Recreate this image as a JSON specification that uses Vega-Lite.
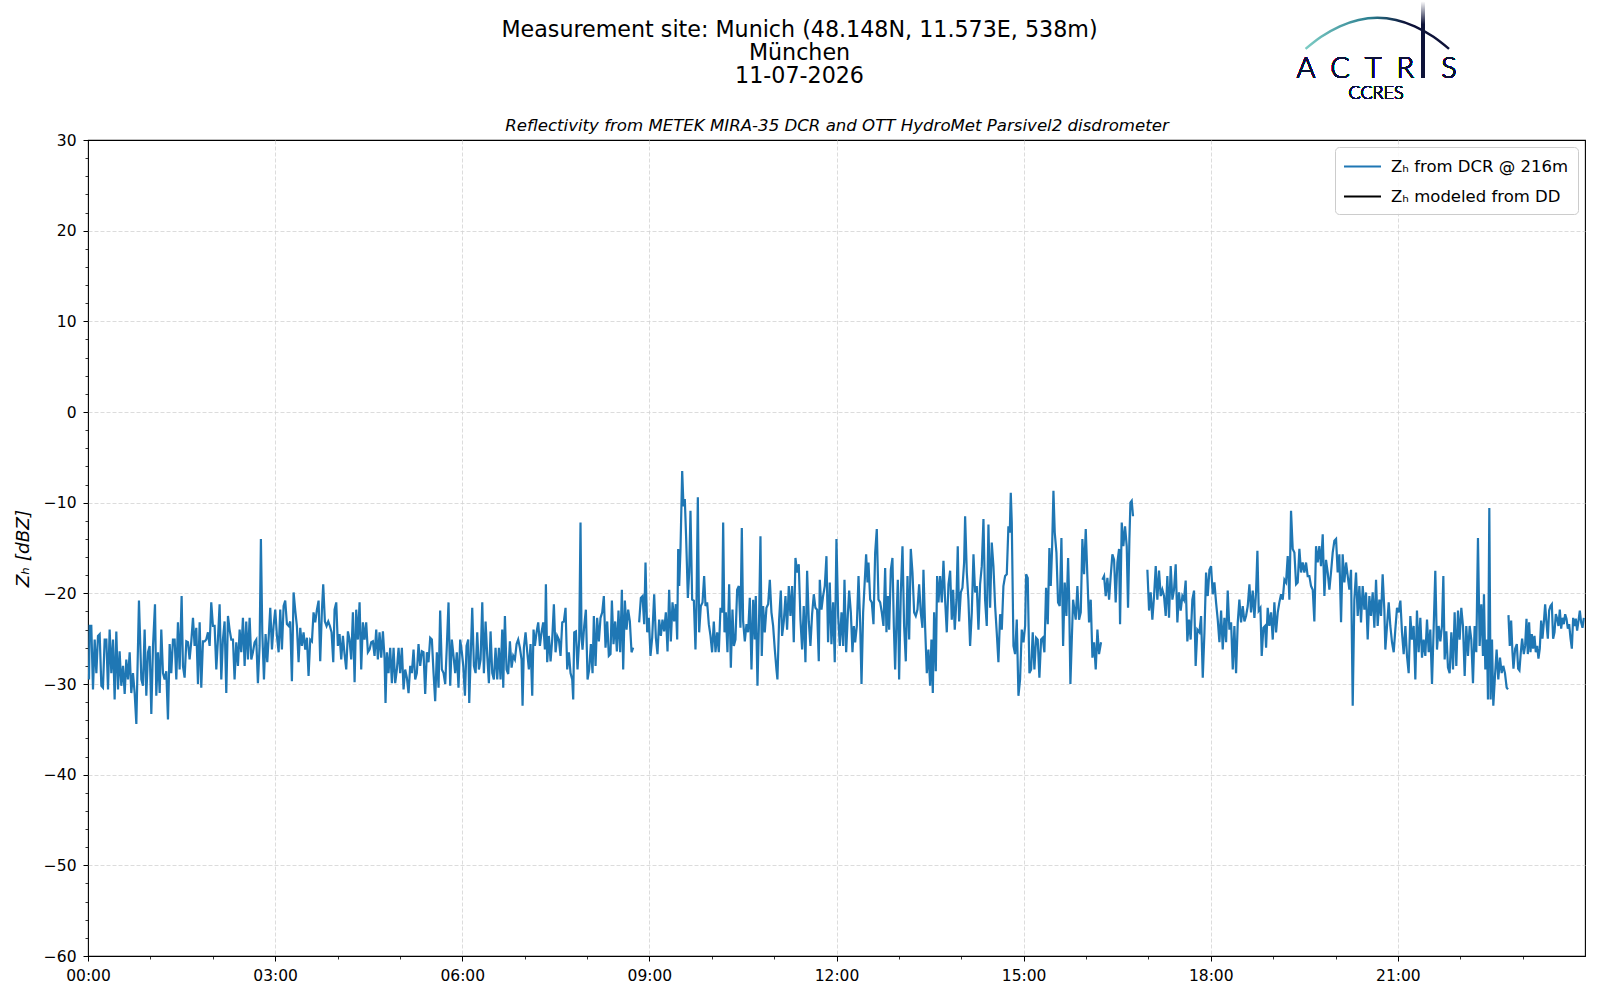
{
  "$schema": "https://vega.github.io/schema/vega-lite/v6.json",
  "width": 1497,
  "height": 816,
  "autosize": {"type": "none"},
  "padding": {"left": 88, "top": 140, "right": 15, "bottom": 44},
  "background": "white",
  "config": {
    "font": "DejaVu Sans",
    "view": {"stroke": "black", "strokeWidth": 1.1},
    "axis": {"labelFont": "DejaVu Sans", "titleFont": "DejaVu Sans", "labelColor": "black", "titleColor": "black", "tickColor": "black"}
  },
  "title": {
    "text": ["Measurement site: Munich (48.148N, 11.573E, 538m)", "München", "11-07-2026"],
    "anchor": "middle",
    "frame": "group",
    "dx": -37,
    "dy": 111,
    "offset": 25,
    "fontSize": 22.2,
    "fontWeight": "normal",
    "font": "DejaVu Sans",
    "lineHeight": 23,
    "color": "black"
  },
  "data": {"values": [
{"h":0.016,"z":-29.5},{"h":0.027,"z":-23.6},{"h":0.053,"z":-23.6},{"h":0.080,"z":-30.6},{"h":0.107,"z":-25.1},{"h":0.134,"z":-28.8},{"h":0.160,"z":-24.7},{"h":0.187,"z":-24.5},{"h":0.214,"z":-30.2},{"h":0.240,"z":-30.4},{"h":0.267,"z":-25.1},{"h":0.294,"z":-25.1},{"h":0.321,"z":-30.6},{"h":0.347,"z":-24.0},{"h":0.374,"z":-28.8},{"h":0.401,"z":-25.1},{"h":0.427,"z":-31.7},{"h":0.454,"z":-24.2},{"h":0.481,"z":-30.6},{"h":0.507,"z":-26.4},{"h":0.534,"z":-30.2},{"h":0.561,"z":-28.0},{"h":0.588,"z":-31.1},{"h":0.614,"z":-27.3},{"h":0.641,"z":-29.5},{"h":0.668,"z":-26.5},{"h":0.694,"z":-31.0},{"h":0.721,"z":-28.8},{"h":0.748,"z":-31.0},{"h":0.775,"z":-34.4},{"h":0.817,"z":-20.8},{"h":0.855,"z":-29.5},{"h":0.881,"z":-30.2},{"h":0.908,"z":-24.0},{"h":0.935,"z":-31.3},{"h":0.962,"z":-26.5},{"h":0.988,"z":-25.8},{"h":1.015,"z":-33.3},{"h":1.042,"z":-25.8},{"h":1.074,"z":-21.2},{"h":1.095,"z":-31.3},{"h":1.122,"z":-26.5},{"h":1.149,"z":-31.0},{"h":1.175,"z":-24.0},{"h":1.202,"z":-28.8},{"h":1.229,"z":-29.5},{"h":1.255,"z":-28.6},{"h":1.282,"z":-33.9},{"h":1.309,"z":-25.6},{"h":1.335,"z":-28.8},{"h":1.362,"z":-25.1},{"h":1.389,"z":-25.1},{"h":1.416,"z":-29.5},{"h":1.442,"z":-23.2},{"h":1.469,"z":-28.4},{"h":1.501,"z":-20.3},{"h":1.522,"z":-28.0},{"h":1.549,"z":-29.3},{"h":1.576,"z":-25.3},{"h":1.603,"z":-25.4},{"h":1.629,"z":-27.3},{"h":1.656,"z":-25.3},{"h":1.683,"z":-22.7},{"h":1.709,"z":-25.8},{"h":1.736,"z":-23.8},{"h":1.763,"z":-30.0},{"h":1.790,"z":-23.2},{"h":1.816,"z":-30.4},{"h":1.843,"z":-25.3},{"h":1.870,"z":-25.3},{"h":1.896,"z":-25.1},{"h":1.923,"z":-24.3},{"h":1.950,"z":-25.8},{"h":1.976,"z":-21.0},{"h":2.003,"z":-23.6},{"h":2.030,"z":-23.6},{"h":2.057,"z":-28.4},{"h":2.083,"z":-25.1},{"h":2.110,"z":-21.2},{"h":2.137,"z":-29.5},{"h":2.163,"z":-25.1},{"h":2.190,"z":-23.1},{"h":2.217,"z":-31.0},{"h":2.244,"z":-22.5},{"h":2.270,"z":-24.0},{"h":2.297,"z":-25.1},{"h":2.324,"z":-25.1},{"h":2.350,"z":-29.5},{"h":2.377,"z":-25.4},{"h":2.404,"z":-28.0},{"h":2.431,"z":-24.0},{"h":2.457,"z":-26.5},{"h":2.484,"z":-22.7},{"h":2.511,"z":-28.0},{"h":2.537,"z":-23.1},{"h":2.564,"z":-27.3},{"h":2.591,"z":-22.7},{"h":2.618,"z":-27.3},{"h":2.644,"z":-26.5},{"h":2.671,"z":-25.4},{"h":2.698,"z":-25.1},{"h":2.724,"z":-29.9},{"h":2.751,"z":-25.8},{"h":2.772,"z":-14.0},{"h":2.794,"z":-24.3},{"h":2.821,"z":-29.5},{"h":2.847,"z":-24.5},{"h":2.874,"z":-27.6},{"h":2.901,"z":-24.3},{"h":2.922,"z":-21.6},{"h":2.949,"z":-26.2},{"h":2.975,"z":-23.6},{"h":3.002,"z":-21.8},{"h":3.029,"z":-24.7},{"h":3.056,"z":-26.5},{"h":3.082,"z":-21.8},{"h":3.109,"z":-26.2},{"h":3.136,"z":-21.4},{"h":3.162,"z":-20.8},{"h":3.189,"z":-23.4},{"h":3.216,"z":-23.6},{"h":3.242,"z":-23.1},{"h":3.269,"z":-29.7},{"h":3.296,"z":-19.9},{"h":3.323,"z":-21.9},{"h":3.349,"z":-23.6},{"h":3.376,"z":-27.6},{"h":3.403,"z":-23.8},{"h":3.429,"z":-25.8},{"h":3.456,"z":-24.3},{"h":3.483,"z":-26.2},{"h":3.510,"z":-24.9},{"h":3.536,"z":-29.1},{"h":3.563,"z":-25.1},{"h":3.590,"z":-25.3},{"h":3.616,"z":-22.1},{"h":3.643,"z":-23.2},{"h":3.670,"z":-21.8},{"h":3.697,"z":-20.8},{"h":3.723,"z":-27.5},{"h":3.750,"z":-21.9},{"h":3.771,"z":-19.0},{"h":3.798,"z":-23.1},{"h":3.825,"z":-23.6},{"h":3.852,"z":-23.1},{"h":3.878,"z":-23.6},{"h":3.905,"z":-24.3},{"h":3.932,"z":-27.6},{"h":3.953,"z":-21.8},{"h":3.980,"z":-21.0},{"h":4.006,"z":-25.8},{"h":4.033,"z":-24.5},{"h":4.060,"z":-27.3},{"h":4.087,"z":-24.7},{"h":4.113,"z":-26.7},{"h":4.140,"z":-28.4},{"h":4.167,"z":-24.2},{"h":4.193,"z":-25.1},{"h":4.220,"z":-27.3},{"h":4.247,"z":-22.1},{"h":4.274,"z":-29.8},{"h":4.300,"z":-21.8},{"h":4.327,"z":-25.1},{"h":4.354,"z":-21.0},{"h":4.380,"z":-28.4},{"h":4.407,"z":-23.2},{"h":4.434,"z":-25.1},{"h":4.460,"z":-23.2},{"h":4.487,"z":-26.5},{"h":4.514,"z":-26.2},{"h":4.541,"z":-25.4},{"h":4.567,"z":-25.3},{"h":4.594,"z":-26.9},{"h":4.621,"z":-24.0},{"h":4.647,"z":-27.3},{"h":4.674,"z":-24.3},{"h":4.701,"z":-27.1},{"h":4.728,"z":-24.2},{"h":4.754,"z":-27.1},{"h":4.770,"z":-32.1},{"h":4.792,"z":-26.5},{"h":4.818,"z":-28.8},{"h":4.845,"z":-26.0},{"h":4.872,"z":-29.9},{"h":4.899,"z":-26.0},{"h":4.925,"z":-29.9},{"h":4.952,"z":-28.4},{"h":4.979,"z":-26.0},{"h":5.005,"z":-28.8},{"h":5.032,"z":-26.0},{"h":5.059,"z":-30.6},{"h":5.085,"z":-28.4},{"h":5.112,"z":-29.3},{"h":5.139,"z":-31.0},{"h":5.166,"z":-28.0},{"h":5.192,"z":-28.8},{"h":5.219,"z":-26.2},{"h":5.246,"z":-29.5},{"h":5.272,"z":-28.8},{"h":5.299,"z":-25.6},{"h":5.326,"z":-28.0},{"h":5.353,"z":-26.4},{"h":5.379,"z":-26.5},{"h":5.406,"z":-31.1},{"h":5.433,"z":-26.5},{"h":5.459,"z":-27.6},{"h":5.486,"z":-24.9},{"h":5.513,"z":-25.1},{"h":5.540,"z":-28.8},{"h":5.566,"z":-31.9},{"h":5.593,"z":-26.5},{"h":5.620,"z":-30.4},{"h":5.646,"z":-21.9},{"h":5.673,"z":-28.4},{"h":5.700,"z":-28.8},{"h":5.727,"z":-30.0},{"h":5.753,"z":-25.8},{"h":5.780,"z":-21.0},{"h":5.807,"z":-30.2},{"h":5.833,"z":-25.1},{"h":5.860,"z":-26.9},{"h":5.887,"z":-28.8},{"h":5.913,"z":-26.5},{"h":5.940,"z":-30.4},{"h":5.967,"z":-25.1},{"h":5.994,"z":-26.5},
{"h":6.016,"z":-28.0},{"h":6.043,"z":-31.3},{"h":6.069,"z":-25.8},{"h":6.096,"z":-25.1},{"h":6.112,"z":-32.1},{"h":6.134,"z":-27.3},{"h":6.160,"z":-21.6},{"h":6.187,"z":-28.0},{"h":6.214,"z":-28.8},{"h":6.240,"z":-24.3},{"h":6.267,"z":-28.4},{"h":6.294,"z":-27.3},{"h":6.321,"z":-21.0},{"h":6.347,"z":-28.8},{"h":6.374,"z":-23.1},{"h":6.401,"z":-26.9},{"h":6.427,"z":-29.9},{"h":6.454,"z":-24.2},{"h":6.481,"z":-28.8},{"h":6.507,"z":-29.5},{"h":6.534,"z":-26.0},{"h":6.561,"z":-29.5},{"h":6.588,"z":-26.0},{"h":6.614,"z":-29.5},{"h":6.641,"z":-24.0},{"h":6.657,"z":-30.4},{"h":6.684,"z":-22.5},{"h":6.710,"z":-28.4},{"h":6.737,"z":-28.9},{"h":6.764,"z":-25.3},{"h":6.791,"z":-28.2},{"h":6.817,"z":-26.9},{"h":6.844,"z":-27.3},{"h":6.871,"z":-25.6},{"h":6.897,"z":-25.1},{"h":6.924,"z":-26.0},{"h":6.951,"z":-27.3},{"h":6.967,"z":-32.4},{"h":6.988,"z":-26.0},{"h":7.015,"z":-24.3},{"h":7.042,"z":-26.5},{"h":7.068,"z":-28.4},{"h":7.095,"z":-25.6},{"h":7.122,"z":-31.3},{"h":7.143,"z":-24.0},{"h":7.165,"z":-25.8},{"h":7.191,"z":-24.3},{"h":7.218,"z":-23.2},{"h":7.245,"z":-25.8},{"h":7.271,"z":-24.3},{"h":7.298,"z":-23.2},{"h":7.325,"z":-26.2},{"h":7.341,"z":-19.0},{"h":7.362,"z":-27.6},{"h":7.389,"z":-24.7},{"h":7.416,"z":-27.5},{"h":7.442,"z":-25.1},{"h":7.469,"z":-21.2},{"h":7.496,"z":-26.5},{"h":7.522,"z":-24.7},{"h":7.549,"z":-25.1},{"h":7.576,"z":-26.9},{"h":7.603,"z":-23.2},{"h":7.629,"z":-23.1},{"h":7.656,"z":-21.6},{"h":7.683,"z":-28.4},{"h":7.709,"z":-26.5},{"h":7.736,"z":-28.8},{"h":7.763,"z":-29.5},{"h":7.779,"z":-31.7},{"h":7.795,"z":-24.3},{"h":7.822,"z":-24.2},{"h":7.848,"z":-28.4},{"h":7.875,"z":-25.1},{"h":7.896,"z":-12.2},{"h":7.912,"z":-24.7},{"h":7.928,"z":-26.2},{"h":7.955,"z":-23.6},{"h":7.982,"z":-21.8},{"h":8.009,"z":-29.5},{"h":8.035,"z":-28.4},{"h":8.062,"z":-25.6},{"h":8.089,"z":-28.8},{"h":8.110,"z":-22.5},{"h":8.137,"z":-28.0},{"h":8.163,"z":-22.7},{"h":8.190,"z":-25.3},{"h":8.217,"z":-22.7},{"h":8.244,"z":-22.1},{"h":8.270,"z":-20.3},{"h":8.297,"z":-26.0},{"h":8.324,"z":-23.1},{"h":8.350,"z":-26.9},{"h":8.377,"z":-26.7},{"h":8.399,"z":-20.8},{"h":8.425,"z":-25.6},{"h":8.452,"z":-23.1},{"h":8.479,"z":-26.4},{"h":8.505,"z":-21.9},{"h":8.532,"z":-26.5},{"h":8.559,"z":-19.6},{"h":8.580,"z":-28.4},{"h":8.607,"z":-20.8},{"h":8.634,"z":-24.0},{"h":8.660,"z":-21.8},{"h":8.687,"z":-23.1},{"h":8.714,"z":-26.5},{"h":8.740,"z":-26.0},{"h":8.790,"z":null},
{"h":8.836,"z":-23.2},{"h":8.863,"z":-20.5},{"h":8.890,"z":-20.3},{"h":8.917,"z":-23.4},{"h":8.938,"z":-16.6},{"h":8.965,"z":-24.3},{"h":8.991,"z":-22.7},{"h":9.018,"z":-26.9},{"h":9.045,"z":-24.9},{"h":9.077,"z":-20.1},{"h":9.104,"z":-24.9},{"h":9.130,"z":-26.7},{"h":9.157,"z":-22.9},{"h":9.184,"z":-24.7},{"h":9.210,"z":-22.9},{"h":9.237,"z":-24.2},{"h":9.264,"z":-22.1},{"h":9.291,"z":-26.4},{"h":9.317,"z":-19.6},{"h":9.344,"z":-25.3},{"h":9.371,"z":-21.0},{"h":9.397,"z":-23.1},{"h":9.424,"z":-21.2},{"h":9.446,"z":-25.1},{"h":9.462,"z":-15.1},{"h":9.478,"z":-19.2},{"h":9.499,"z":-15.1},{"h":9.526,"z":-6.5},{"h":9.547,"z":-10.4},{"h":9.568,"z":-9.6},{"h":9.590,"z":-14.0},{"h":9.617,"z":-20.5},{"h":9.638,"z":-17.7},{"h":9.659,"z":-10.9},{"h":9.686,"z":-20.7},{"h":9.713,"z":-20.8},{"h":9.739,"z":-26.2},{"h":9.755,"z":-21.4},{"h":9.777,"z":-9.4},{"h":9.798,"z":-24.3},{"h":9.825,"z":-21.4},{"h":9.852,"z":-21.0},{"h":9.878,"z":-18.1},{"h":9.900,"z":-21.4},{"h":9.926,"z":-21.0},{"h":9.953,"z":-23.4},{"h":9.980,"z":-24.7},{"h":10.006,"z":-26.5},{"h":10.033,"z":-23.1},{"h":10.060,"z":-26.5},{"h":10.087,"z":-24.3},{"h":10.113,"z":-26.5},{"h":10.140,"z":-21.6},{"h":10.167,"z":-22.1},{"h":10.183,"z":-12.2},{"h":10.204,"z":-24.3},{"h":10.226,"z":-22.1},{"h":10.252,"z":-26.5},{"h":10.279,"z":-19.0},{"h":10.306,"z":-28.2},{"h":10.332,"z":-21.8},{"h":10.354,"z":-25.8},{"h":10.380,"z":-25.1},{"h":10.407,"z":-19.6},{"h":10.434,"z":-19.2},{"h":10.460,"z":-23.8},{"h":10.482,"z":-12.8},{"h":10.503,"z":-23.1},{"h":10.530,"z":-25.3},{"h":10.557,"z":-23.4},{"h":10.583,"z":-24.3},{"h":10.610,"z":-20.5},{"h":10.637,"z":-28.4},{"h":10.664,"z":-20.7},{"h":10.690,"z":-25.1},{"h":10.706,"z":-20.3},{"h":10.733,"z":-30.2},{"h":10.760,"z":-22.3},{"h":10.781,"z":-13.7},{"h":10.802,"z":-26.9},{"h":10.824,"z":-21.4},{"h":10.850,"z":-24.3},{"h":10.877,"z":-21.6},{"h":10.904,"z":-21.2},{"h":10.931,"z":-18.5},{"h":10.957,"z":-22.1},{"h":10.984,"z":-23.6},{"h":11.011,"z":-26.2},{"h":11.037,"z":-28.4},{"h":11.053,"z":-29.5},{"h":11.080,"z":-22.9},{"h":11.107,"z":-19.7},{"h":11.128,"z":-24.7},{"h":11.155,"z":-23.1},{"h":11.182,"z":-20.3},{"h":11.208,"z":-24.0},{"h":11.235,"z":-19.2},{"h":11.262,"z":-22.5},{"h":11.288,"z":-19.2},{"h":11.315,"z":-25.4},{"h":11.342,"z":-16.1},{"h":11.369,"z":-17.7},{"h":11.395,"z":-16.8},{"h":11.422,"z":-22.9},{"h":11.449,"z":-26.2},{"h":11.475,"z":-21.4},{"h":11.502,"z":-27.6},{"h":11.529,"z":-17.5},{"h":11.556,"z":-23.1},{"h":11.582,"z":-25.8},{"h":11.609,"z":-22.3},{"h":11.636,"z":-20.1},{"h":11.662,"z":-21.6},{"h":11.689,"z":-21.8},{"h":11.716,"z":-27.5},{"h":11.732,"z":-18.5},{"h":11.759,"z":-21.8},{"h":11.785,"z":-20.3},{"h":11.812,"z":-19.2},{"h":11.839,"z":-15.9},{"h":11.865,"z":-25.4},{"h":11.892,"z":-18.8},{"h":11.919,"z":-25.6},{"h":11.946,"z":-21.0},{"h":11.972,"z":-27.6},{"h":11.999,"z":-14.0},
{"h":12.027,"z":-22.5},{"h":12.053,"z":-25.8},{"h":12.080,"z":-22.1},{"h":12.107,"z":-25.8},{"h":12.128,"z":-18.5},{"h":12.155,"z":-26.5},{"h":12.182,"z":-22.3},{"h":12.203,"z":-19.7},{"h":12.230,"z":-22.1},{"h":12.256,"z":-26.5},{"h":12.278,"z":-23.6},{"h":12.299,"z":-25.4},{"h":12.326,"z":-23.6},{"h":12.353,"z":-18.1},{"h":12.379,"z":-23.2},{"h":12.401,"z":-30.0},{"h":12.427,"z":-22.1},{"h":12.454,"z":-18.5},{"h":12.475,"z":-15.7},{"h":12.497,"z":-18.8},{"h":12.513,"z":-16.6},{"h":12.540,"z":-20.7},{"h":12.566,"z":-21.0},{"h":12.593,"z":-23.4},{"h":12.620,"z":-15.5},{"h":12.646,"z":-12.9},{"h":12.673,"z":-20.7},{"h":12.700,"z":-21.0},{"h":12.726,"z":-22.1},{"h":12.753,"z":-23.6},{"h":12.780,"z":-17.2},{"h":12.801,"z":-24.3},{"h":12.823,"z":-20.3},{"h":12.844,"z":-24.0},{"h":12.871,"z":-17.4},{"h":12.897,"z":-16.1},{"h":12.919,"z":-23.6},{"h":12.940,"z":-28.4},{"h":12.962,"z":-22.9},{"h":12.983,"z":-18.5},{"h":13.004,"z":-29.5},{"h":13.031,"z":-19.9},{"h":13.058,"z":-14.8},{"h":13.084,"z":-23.6},{"h":13.111,"z":-27.5},{"h":13.138,"z":-18.1},{"h":13.165,"z":-25.1},{"h":13.191,"z":-15.1},{"h":13.218,"z":-17.7},{"h":13.245,"z":-22.1},{"h":13.271,"z":-22.5},{"h":13.298,"z":-21.8},{"h":13.325,"z":-19.0},{"h":13.351,"z":-22.1},{"h":13.378,"z":-23.8},{"h":13.394,"z":-17.4},{"h":13.421,"z":-23.8},{"h":13.448,"z":-28.8},{"h":13.474,"z":-26.2},{"h":13.501,"z":-30.2},{"h":13.522,"z":-25.1},{"h":13.544,"z":-31.0},{"h":13.565,"z":-22.1},{"h":13.592,"z":-28.6},{"h":13.613,"z":-18.1},{"h":13.635,"z":-21.0},{"h":13.661,"z":-18.1},{"h":13.688,"z":-21.0},{"h":13.715,"z":-16.4},{"h":13.741,"z":-20.7},{"h":13.768,"z":-24.3},{"h":13.795,"z":-19.0},{"h":13.822,"z":-17.5},{"h":13.848,"z":-22.9},{"h":13.870,"z":-19.6},{"h":13.896,"z":-24.0},{"h":13.923,"z":-20.7},{"h":13.944,"z":-14.8},{"h":13.966,"z":-23.1},{"h":13.993,"z":-19.9},{"h":14.019,"z":-19.4},{"h":14.046,"z":-16.6},{"h":14.062,"z":-11.5},{"h":14.089,"z":-17.7},{"h":14.115,"z":-20.7},{"h":14.142,"z":-25.8},{"h":14.169,"z":-22.1},{"h":14.196,"z":-15.7},{"h":14.222,"z":-19.9},{"h":14.249,"z":-19.2},{"h":14.276,"z":-24.0},{"h":14.302,"z":-19.0},{"h":14.329,"z":-17.0},{"h":14.356,"z":-11.8},{"h":14.382,"z":-20.7},{"h":14.409,"z":-23.6},{"h":14.436,"z":-12.4},{"h":14.463,"z":-21.6},{"h":14.489,"z":-14.4},{"h":14.516,"z":-17.0},{"h":14.543,"z":-21.4},{"h":14.569,"z":-24.3},{"h":14.596,"z":-27.6},{"h":14.623,"z":-22.3},{"h":14.650,"z":-24.0},{"h":14.676,"z":-19.2},{"h":14.703,"z":-18.1},{"h":14.730,"z":-17.9},{"h":14.756,"z":-12.6},{"h":14.778,"z":-13.3},{"h":14.794,"z":-8.9},{"h":14.810,"z":-12.2},{"h":14.837,"z":-25.8},{"h":14.863,"z":-26.7},{"h":14.890,"z":-22.9},{"h":14.917,"z":-31.3},{"h":14.943,"z":-29.5},{"h":14.970,"z":-24.0},{"h":14.997,"z":-25.4},{"h":15.024,"z":-23.6},{"h":15.040,"z":-17.9},{"h":15.066,"z":-18.3},{"h":15.093,"z":-28.8},{"h":15.120,"z":-28.4},{"h":15.146,"z":-24.3},{"h":15.173,"z":-28.4},{"h":15.200,"z":-24.9},{"h":15.226,"z":-25.1},{"h":15.253,"z":-29.3},{"h":15.280,"z":-25.1},{"h":15.307,"z":-24.9},{"h":15.333,"z":-26.5},{"h":15.360,"z":-19.4},{"h":15.387,"z":-23.4},{"h":15.413,"z":-15.0},{"h":15.435,"z":-19.2},{"h":15.456,"z":-15.1},{"h":15.478,"z":-8.7},{"h":15.499,"z":-13.3},{"h":15.526,"z":-15.5},{"h":15.552,"z":-21.0},{"h":15.579,"z":-21.4},{"h":15.606,"z":-13.9},{"h":15.633,"z":-25.8},{"h":15.659,"z":-18.8},{"h":15.686,"z":-22.5},{"h":15.713,"z":-16.1},{"h":15.729,"z":-20.3},{"h":15.750,"z":-30.0},{"h":15.771,"z":-25.4},{"h":15.793,"z":-20.7},{"h":15.814,"z":-21.8},{"h":15.835,"z":-22.9},{"h":15.862,"z":-19.2},{"h":15.889,"z":-22.9},{"h":15.916,"z":-22.1},{"h":15.942,"z":-14.0},{"h":15.969,"z":-17.9},{"h":15.996,"z":-12.9},{"h":16.022,"z":-18.1},{"h":16.049,"z":-23.2},{"h":16.076,"z":-20.7},{"h":16.103,"z":-27.1},{"h":16.129,"z":-25.4},{"h":16.156,"z":-28.4},{"h":16.183,"z":-24.0},{"h":16.209,"z":-26.7},{"h":16.241,"z":-25.4},{"h":16.252,"z":null},
{"h":16.263,"z":-18.5},{"h":16.290,"z":-18.1},{"h":16.316,"z":-20.3},{"h":16.343,"z":-18.3},{"h":16.370,"z":-20.7},{"h":16.396,"z":-18.1},{"h":16.423,"z":-15.7},{"h":16.450,"z":-16.3},{"h":16.476,"z":-21.0},{"h":16.503,"z":-16.6},{"h":16.530,"z":-15.1},{"h":16.546,"z":-23.4},{"h":16.573,"z":-12.2},{"h":16.599,"z":-14.8},{"h":16.626,"z":-12.6},{"h":16.653,"z":-14.8},{"h":16.674,"z":-21.6},{"h":16.696,"z":-14.0},{"h":16.712,"z":-10.0},{"h":16.733,"z":-9.8},{"h":16.754,"z":-11.5},{"h":16.870,"z":null},
{"h":16.984,"z":-17.4},{"h":17.011,"z":-21.9},{"h":17.037,"z":-19.9},{"h":17.064,"z":-22.9},{"h":17.091,"z":-20.3},{"h":17.118,"z":-17.0},{"h":17.144,"z":-20.7},{"h":17.171,"z":-17.5},{"h":17.198,"z":-20.3},{"h":17.224,"z":-19.6},{"h":17.251,"z":-20.3},{"h":17.278,"z":-22.5},{"h":17.304,"z":-18.1},{"h":17.331,"z":-22.7},{"h":17.358,"z":-17.0},{"h":17.385,"z":-20.7},{"h":17.411,"z":-19.6},{"h":17.438,"z":-16.8},{"h":17.465,"z":-23.2},{"h":17.491,"z":-19.9},{"h":17.518,"z":-21.9},{"h":17.545,"z":-20.3},{"h":17.571,"z":-20.7},{"h":17.598,"z":-18.6},{"h":17.625,"z":-25.3},{"h":17.652,"z":-22.9},{"h":17.678,"z":-25.1},{"h":17.705,"z":-20.7},{"h":17.732,"z":-19.7},{"h":17.758,"z":-28.0},{"h":17.785,"z":-24.0},
{"h":17.818,"z":-24.3},{"h":17.845,"z":-22.5},{"h":17.872,"z":-29.3},{"h":17.899,"z":-24.3},{"h":17.925,"z":-17.7},{"h":17.952,"z":-20.3},{"h":17.979,"z":-17.4},{"h":18.005,"z":-17.0},{"h":18.032,"z":-20.1},{"h":18.059,"z":-18.8},{"h":18.085,"z":-21.0},{"h":18.112,"z":-22.9},{"h":18.139,"z":-25.4},{"h":18.166,"z":-21.9},{"h":18.192,"z":-26.2},{"h":18.219,"z":-22.7},{"h":18.246,"z":-25.4},{"h":18.272,"z":-19.7},{"h":18.299,"z":-24.0},{"h":18.326,"z":-23.2},{"h":18.353,"z":-28.4},{"h":18.379,"z":-23.6},{"h":18.406,"z":-28.8},{"h":18.433,"z":-23.2},{"h":18.459,"z":-20.7},{"h":18.486,"z":-23.2},{"h":18.513,"z":-21.4},{"h":18.540,"z":-23.1},{"h":18.566,"z":-22.5},{"h":18.593,"z":-21.4},{"h":18.620,"z":-19.0},{"h":18.646,"z":-22.1},{"h":18.673,"z":-19.7},{"h":18.700,"z":-22.7},{"h":18.726,"z":-19.9},{"h":18.748,"z":-15.3},{"h":18.769,"z":-21.9},{"h":18.796,"z":-21.6},{"h":18.817,"z":-26.9},{"h":18.844,"z":-23.8},{"h":18.871,"z":-23.6},{"h":18.887,"z":-26.0},{"h":18.913,"z":-21.6},{"h":18.940,"z":-23.6},{"h":18.967,"z":-22.1},{"h":18.994,"z":-25.1},{"h":19.020,"z":-21.0},{"h":19.047,"z":-24.3},{"h":19.074,"z":-22.1},{"h":19.100,"z":-21.0},{"h":19.127,"z":-20.1},{"h":19.154,"z":-20.7},{"h":19.181,"z":-18.5},{"h":19.207,"z":-18.8},{"h":19.234,"z":-15.9},{"h":19.261,"z":-20.7},{"h":19.287,"z":-10.9},{"h":19.314,"z":-15.1},{"h":19.341,"z":-15.5},{"h":19.368,"z":-19.0},{"h":19.394,"z":-18.8},{"h":19.421,"z":-15.1},{"h":19.448,"z":-17.7},{"h":19.474,"z":-16.6},{"h":19.501,"z":-17.7},{"h":19.528,"z":-16.6},{"h":19.554,"z":-18.1},{"h":19.581,"z":-18.1},{"h":19.608,"z":-19.2},{"h":19.635,"z":-19.6},{"h":19.661,"z":-23.1},{"h":19.688,"z":-14.8},{"h":19.715,"z":-16.6},{"h":19.741,"z":-14.8},{"h":19.768,"z":-17.0},{"h":19.795,"z":-13.5},{"h":19.822,"z":-20.3},{"h":19.848,"z":-16.3},{"h":19.875,"z":-17.7},{"h":19.902,"z":-19.6},{"h":19.928,"z":-17.7},{"h":19.955,"z":-15.5},{"h":19.982,"z":-14.2},{"h":20.009,"z":-14.0},{"h":20.035,"z":-17.7},{"h":20.062,"z":-15.7},{"h":20.089,"z":-23.2},{"h":20.115,"z":-15.7},{"h":20.142,"z":-18.8},{"h":20.169,"z":-16.6},{"h":20.196,"z":-18.1},{"h":20.222,"z":-19.6},{"h":20.249,"z":-17.4},{"h":20.276,"z":-32.4},{"h":20.302,"z":-20.7},{"h":20.329,"z":-17.7},{"h":20.356,"z":-22.5},{"h":20.383,"z":-19.2},{"h":20.409,"z":-23.2},{"h":20.436,"z":-19.2},{"h":20.463,"z":-21.8},{"h":20.489,"z":-19.9},{"h":20.516,"z":-25.1},{"h":20.543,"z":-20.3},{"h":20.569,"z":-22.5},{"h":20.596,"z":-19.9},{"h":20.623,"z":-23.8},{"h":20.650,"z":-18.5},{"h":20.676,"z":-23.6},{"h":20.703,"z":-20.7},{"h":20.730,"z":-22.5},{"h":20.756,"z":-17.9},{"h":20.783,"z":-21.8},{"h":20.799,"z":-26.2},{"h":20.826,"z":-23.6},{"h":20.853,"z":-21.0},{"h":20.879,"z":-23.6},{"h":20.906,"z":-25.4},{"h":20.933,"z":-26.5},{"h":20.959,"z":-24.0},{"h":20.986,"z":-21.6},{"h":21.013,"z":-22.1},{"h":21.040,"z":-20.8},{"h":21.066,"z":-24.3},{"h":21.093,"z":-26.7},{"h":21.120,"z":-23.6},{"h":21.146,"z":-26.9},{"h":21.173,"z":-28.8},{"h":21.200,"z":-22.5},{"h":21.226,"z":-25.1},{"h":21.253,"z":-23.6},{"h":21.280,"z":-29.5},{"h":21.306,"z":-21.9},{"h":21.333,"z":-26.5},{"h":21.360,"z":-22.7},{"h":21.387,"z":-27.1},{"h":21.413,"z":-25.1},{"h":21.440,"z":-26.9},{"h":21.467,"z":-22.9},{"h":21.494,"z":-26.5},{"h":21.520,"z":-24.0},{"h":21.547,"z":-30.0},{"h":21.574,"z":-23.8},{"h":21.600,"z":-17.5},{"h":21.627,"z":-26.2},{"h":21.654,"z":-23.6},{"h":21.681,"z":-25.3},{"h":21.707,"z":-23.6},{"h":21.729,"z":-18.1},{"h":21.750,"z":-27.3},{"h":21.777,"z":-24.2},{"h":21.803,"z":-28.2},{"h":21.830,"z":-28.8},{"h":21.857,"z":-24.3},{"h":21.884,"z":-28.4},{"h":21.910,"z":-22.1},{"h":21.937,"z":-28.0},{"h":21.964,"z":-21.9},{"h":21.990,"z":-25.1},{"h":22.017,"z":-21.6},{"h":22.044,"z":-23.6},{"h":22.071,"z":-29.1},{"h":22.097,"z":-23.6},{"h":22.124,"z":-26.9},{"h":22.151,"z":-23.6},{"h":22.177,"z":-25.1},{"h":22.204,"z":-29.9},{"h":22.231,"z":-23.6},{"h":22.257,"z":-26.5},{"h":22.284,"z":-13.9},{"h":22.311,"z":-25.8},{"h":22.338,"z":-21.2},{"h":22.364,"z":-26.9},{"h":22.380,"z":-20.1},{"h":22.402,"z":-28.4},{"h":22.429,"z":-25.1},{"h":22.444,"z":-31.7},{"h":22.466,"z":-10.6},{"h":22.487,"z":-31.7},{"h":22.509,"z":-25.1},{"h":22.530,"z":-32.4},{"h":22.557,"z":-29.1},{"h":22.583,"z":-26.2},{"h":22.610,"z":-29.5},{"h":22.637,"z":-27.1},{"h":22.664,"z":-28.8},{"h":22.690,"z":-28.0},{"h":22.717,"z":-28.8},{"h":22.744,"z":-30.4},{"h":22.765,"z":-30.6},{"h":22.769,"z":null},
{"h":22.773,"z":-22.4},{"h":22.794,"z":-25.8},{"h":22.816,"z":-23.0},{"h":22.837,"z":-26.5},{"h":22.853,"z":-28.3},{"h":22.880,"z":-26.1},{"h":22.907,"z":-25.6},{"h":22.928,"z":-28.3},{"h":22.949,"z":-28.5},{"h":22.971,"z":-26.5},{"h":22.992,"z":-25.0},{"h":23.019,"z":-26.7},{"h":23.040,"z":-25.8},{"h":23.062,"z":-22.8},{"h":23.083,"z":-26.7},{"h":23.104,"z":-23.2},{"h":23.126,"z":-26.5},{"h":23.147,"z":-24.5},{"h":23.168,"z":-26.1},{"h":23.190,"z":-24.7},{"h":23.211,"z":-26.5},{"h":23.233,"z":-25.8},{"h":23.254,"z":-27.2},{"h":23.275,"z":-26.1},{"h":23.297,"z":-23.0},{"h":23.318,"z":-25.0},{"h":23.340,"z":-23.2},{"h":23.361,"z":-21.2},{"h":23.382,"z":-23.2},{"h":23.404,"z":-25.0},{"h":23.425,"z":-21.9},{"h":23.447,"z":-21.4},{"h":23.468,"z":-21.2},{"h":23.489,"z":-25.0},{"h":23.511,"z":-24.3},{"h":23.532,"z":-22.3},{"h":23.554,"z":-22.8},{"h":23.575,"z":-23.6},{"h":23.596,"z":-21.8},{"h":23.618,"z":-23.9},{"h":23.639,"z":-22.7},{"h":23.660,"z":-23.4},{"h":23.682,"z":-22.3},{"h":23.703,"z":-22.8},{"h":23.725,"z":-23.9},{"h":23.746,"z":-23.4},{"h":23.767,"z":-24.9},{"h":23.789,"z":-26.1},{"h":23.810,"z":-22.7},{"h":23.832,"z":-23.6},{"h":23.853,"z":-22.8},{"h":23.874,"z":-24.1},{"h":23.896,"z":-23.0},{"h":23.917,"z":-21.9},{"h":23.938,"z":-23.2},{"h":23.960,"z":-23.8},{"h":23.981,"z":-22.7}
  ]},
  "layer": [
    {
      "mark": {"type": "line", "strokeWidth": 2.2, "invalid": "break-paths-show-domains"},
      "encoding": {
        "x": {
          "field": "h", "type": "quantitative",
          "scale": {"domain": [0, 24], "nice": false, "zero": false},
          "axis": {
            "values": [0, 3, 6, 9, 12, 15, 18, 21],
            "labelExpr": "(datum.value < 10 ? '0' : '') + datum.value + ':00'",
            "title": null, "domain": false,
            "grid": true, "gridColor": "#d3d3d3", "gridDash": [4, 2], "gridWidth": 0.8,
            "gridOpacity": {"condition": {"test": "datum.value === 0", "value": 0}, "value": 1},
            "tickSize": 5, "tickWidth": 1, "labelFontSize": 15.5, "labelPadding": 7, "labelFlush": false, "labelOverlap": false
          }
        },
        "y": {
          "field": "z", "type": "quantitative",
          "scale": {"domain": [-60, 30], "nice": false, "zero": false},
          "axis": {
            "values": [-60, -50, -40, -30, -20, -10, 0, 10, 20, 30],
            "title": "Zₕ [dBZ]", "titleFontSize": 18.5, "titleFontWeight": "normal", "titleFontStyle": "italic", "titlePadding": 11,
            "domain": false,
            "grid": true, "gridColor": "#d3d3d3", "gridDash": [4, 2], "gridWidth": 0.8,
            "gridOpacity": {"condition": {"test": "datum.value === 30 || datum.value === -60", "value": 0}, "value": 1},
            "tickSize": 5, "tickWidth": 1, "labelFontSize": 15.5, "labelPadding": 7, "labelOverlap": false
          }
        },
        "color": {
          "datum": "Zₕ from DCR @ 216m",
          "scale": {"domain": ["Zₕ from DCR @ 216m", "Zₕ modeled from DD"], "range": ["#1f77b4", "#000000"]},
          "legend": {
            "title": null, "orient": "top-right", "offset": 7,
            "fillColor": "rgba(255,255,255,0.85)", "strokeColor": "#cccccc", "cornerRadius": 4,
            "padding": 9, "rowPadding": 11,
            "symbolType": "M-2,0H2", "symbolSize": 342, "symbolStrokeWidth": 2.2, "symbolOffset": 8,
            "labelFontSize": 16.5, "labelFont": "DejaVu Sans", "labelColor": "black", "labelOffset": 18, "labelLimit": 400
          }
        }
      }
    },
    {
      "mark": {"type": "point", "opacity": 0},
      "encoding": {
        "x": {
          "field": "h", "type": "quantitative",
          "scale": {"domain": [0, 24], "nice": false, "zero": false},
          "axis": {"orient": "top", "title": "Reflectivity from METEK MIRA-35 DCR and OTT HydroMet Parsivel2 disdrometer",
                   "titleFontStyle": "italic", "titleFontWeight": "normal", "titleFontSize": 16.6, "titlePadding": 7,
                   "labels": false, "ticks": false, "domain": false, "grid": false}
        },
        "y": {
          "field": "z", "type": "quantitative",
          "scale": {"domain": [-60, 30], "nice": false, "zero": false},
          "axis": {"orient": "left", "values": [-58, -56, -54, -52, -48, -46, -44, -42, -38, -36, -34, -32, -28, -26, -24, -22, -18, -16, -14, -12, -8, -6, -4, -2, 2, 4, 6, 8, 12, 14, 16, 18, 22, 24, 26, 28],
                   "labels": false, "grid": false, "domain": false, "tickSize": 3, "tickWidth": 0.8, "title": null}
        }
      }
    },
    {
      "mark": {"type": "point", "opacity": 0},
      "encoding": {
        "x": {
          "field": "h", "type": "quantitative",
          "scale": {"domain": [0, 24], "nice": false, "zero": false},
          "axis": {"orient": "bottom", "values": [1, 2, 4, 5, 7, 8, 10, 11, 13, 14, 16, 17, 19, 20, 22, 23],
                   "labels": false, "grid": false, "domain": false, "tickSize": 3, "tickWidth": 0.8, "title": null}
        },
        "y": {
          "field": "z", "type": "quantitative",
          "scale": {"domain": [-60, 30], "nice": false, "zero": false},
          "axis": null
        }
      }
    },
    {
      "data": {"values": [
        {"h": 19.52, "z": 40.05}, {"h": 19.77, "z": 41.38}, {"h": 20.07, "z": 42.54}, {"h": 20.37, "z": 43.24},
        {"h": 20.67, "z": 43.47}, {"h": 20.97, "z": 43.24}, {"h": 21.27, "z": 42.54}, {"h": 21.57, "z": 41.38}, {"h": 21.82, "z": 40.05}
      ]},
      "mark": {
        "type": "line", "strokeWidth": 2.5, "interpolate": "monotone",
        "color": {"gradient": "linear", "x1": 0, "y1": 0, "x2": 1, "y2": 0,
                  "stops": [{"offset": 0, "color": "#7cccc4"}, {"offset": 0.45, "color": "#2a7d8f"}, {"offset": 0.7, "color": "#0d1238"}, {"offset": 1, "color": "#0d1238"}]}
      },
      "encoding": {
        "x": {"field": "h", "type": "quantitative", "scale": {"domain": [0, 24], "nice": false, "zero": false}, "axis": null},
        "y": {"field": "z", "type": "quantitative", "scale": {"domain": [-60, 30], "nice": false, "zero": false}, "axis": null}
      }
    },
    {
      "mark": {
        "type": "rect",
        "color": {"gradient": "linear", "x1": 0, "y1": 0, "x2": 0, "y2": 1,
                  "stops": [{"offset": 0, "color": "#ffffff"}, {"offset": 0.3, "color": "#0d1238"}, {"offset": 1, "color": "#0d1238"}]}
      },
      "encoding": {
        "x": {"datum": 21.376, "type": "quantitative", "scale": {"domain": [0, 24], "nice": false, "zero": false}, "axis": null},
        "x2": {"datum": 21.424},
        "y": {"datum": 45.3, "type": "quantitative", "scale": {"domain": [-60, 30], "nice": false, "zero": false}, "axis": null},
        "y2": {"datum": 36.86}
      }
    },
    {
      "mark": {"type": "text", "font": "Lato", "fontSize": 29, "fontWeight": 300, "color": "#0d1238", "align": "center", "baseline": "alphabetic"},
      "encoding": {
        "x": {"datum": 20.66, "type": "quantitative", "scale": {"domain": [0, 24], "nice": false, "zero": false}, "axis": null},
        "y": {"datum": 36.86, "type": "quantitative", "scale": {"domain": [-60, 30], "nice": false, "zero": false}, "axis": null},
        "text": {"value": "A\u00a0\u00a0C\u00a0\u00a0T\u00a0\u00a0R\u00a0\u00a0\u00a0\u2009S"}
      }
    },
    {
      "mark": {"type": "text", "font": "Lato", "fontSize": 18, "fontWeight": 300, "color": "#0d1238", "align": "center", "baseline": "alphabetic"},
      "encoding": {
        "x": {"datum": 20.65, "type": "quantitative", "scale": {"domain": [0, 24], "nice": false, "zero": false}, "axis": null},
        "y": {"datum": 34.57, "type": "quantitative", "scale": {"domain": [-60, 30], "nice": false, "zero": false}, "axis": null},
        "text": {"value": "CCRES"}
      }
    }
  ],
  "resolve": {"scale": {"x": "shared", "y": "shared", "color": "independent"}, "axis": {"x": "independent", "y": "independent"}}
}
